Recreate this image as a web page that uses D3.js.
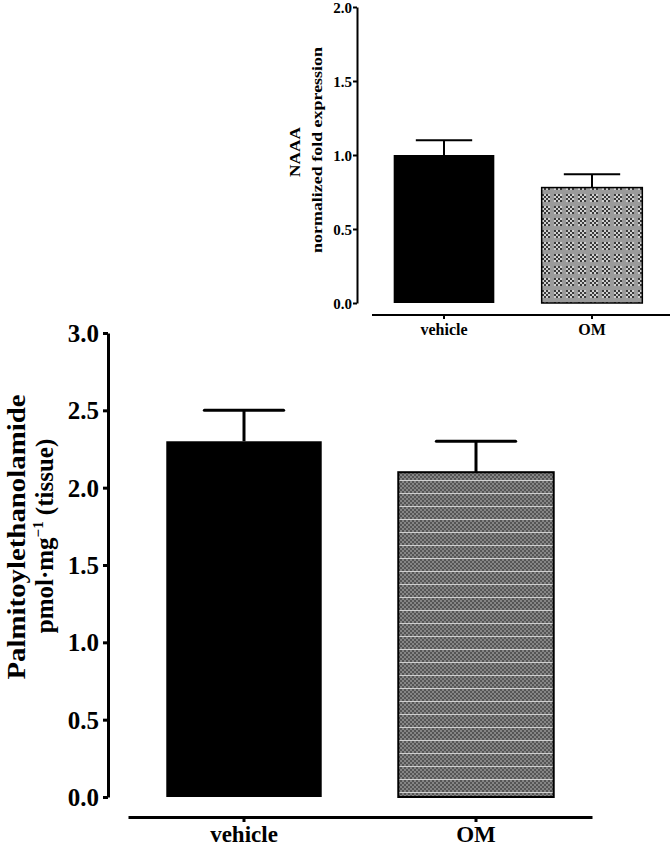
<!DOCTYPE html>
<html><head><meta charset="utf-8">
<script src="https://cdn.jsdelivr.net/npm/d3@7"></script>
<style>
html,body{margin:0;padding:0;background:#fff;}
svg{display:block;}
text{font-family:"Liberation Serif","Times New Roman",serif;font-weight:bold;fill:#000;}
</style></head>
<body>
<svg id="chart" width="670" height="848"></svg>
<script>
// ---- data ----
const categories = ["vehicle", "OM"];
const peaMeans = [2.3, 2.1];
const peaErrors = [0.2, 0.2];
const peaTicks = [0, 0.5, 1.0, 1.5, 2.0, 2.5, 3.0];
const naaaMeans = [1.0, 0.78];
const naaaErrors = [0.1, 0.09];
const naaaTicks = [0, 0.5, 1.0, 1.5, 2.0];

const svg = d3.select("#chart");
const defs = svg.append("defs");

// pattern for main OM bar: fine checker with light horizontal streaks
const p1 = defs.append("pattern").attr("id","patMain").attr("patternUnits","userSpaceOnUse")
  .attr("width",4).attr("height",13);
p1.append("rect").attr("width",4).attr("height",13).attr("fill","#858585");
[[0,0],[2,2],[0,4],[2,6],[0,8],[2,10]].forEach(([x,y])=>{
  p1.append("rect").attr("x",x).attr("y",y).attr("width",2).attr("height",2).attr("fill","#555");
});
p1.append("rect").attr("x",0).attr("y",12).attr("width",4).attr("height",1).attr("fill","#cfcfcf");

// pattern for inset OM bar: blocky checker
const p2 = defs.append("pattern").attr("id","patInset").attr("patternUnits","userSpaceOnUse")
  .attr("width",12).attr("height",12);
p2.append("rect").attr("width",12).attr("height",12).attr("fill","#9a9a9a");
for(let i=0;i<4;i++)for(let j=0;j<4;j++){
  p2.append("rect").attr("x",2+i*2).attr("y",2+j*2).attr("width",2).attr("height",2)
    .attr("fill",(i+j)%2? "#d0d0d0":"#3a3a3a");
}

// ---------- Main chart ----------
const xMain = d3.scaleBand().domain(categories).range([128, 592]).paddingInner(0.33).paddingOuter(0.165);
const yMain = d3.scaleLinear().domain([0, 3]).range([797, 333]);
const gMain = svg.append("g");

gMain.selectAll("rect.bar").data(categories).join("rect")
  .attr("x", d => xMain(d)).attr("width", xMain.bandwidth())
  .attr("y", (d,i) => yMain(peaMeans[i])).attr("height", (d,i) => yMain(0) - yMain(peaMeans[i]))
  .attr("fill", (d,i) => i === 0 ? "#000" : "url(#patMain)")
  .attr("stroke", "#000").attr("stroke-width", (d,i)=> i===0?0:2);

const capMain = xMain.bandwidth() * 0.51;
categories.forEach((c,i) => {
  const cx = xMain(c) + xMain.bandwidth()/2;
  gMain.append("line").attr("x1",cx).attr("x2",cx)
    .attr("y1",yMain(peaMeans[i])).attr("y2",yMain(peaMeans[i]+peaErrors[i]))
    .attr("stroke","#000").attr("stroke-width",3);
  gMain.append("line").attr("x1",cx-capMain/2).attr("x2",cx+capMain/2)
    .attr("y1",yMain(peaMeans[i]+peaErrors[i])).attr("y2",yMain(peaMeans[i]+peaErrors[i]))
    .attr("stroke","#000").attr("stroke-width",3).attr("stroke-linecap","round");
});

const yAxMain = gMain.append("g").attr("transform","translate(108,0)")
  .call(d3.axisLeft(yMain).tickValues(peaTicks).tickFormat(d3.format(".1f")).tickSize(5).tickSizeOuter(0));
yAxMain.select(".domain").attr("stroke-width",3);
yAxMain.selectAll(".tick line").attr("stroke-width",3);
yAxMain.selectAll(".tick text").attr("font-size",25).attr("x",-9).attr("dy","0.34em")
  .style("font-family","'Liberation Serif',serif").style("font-weight","bold");

const xAxMain = gMain.append("g").attr("transform","translate(0,817)")
  .call(d3.axisBottom(xMain).tickSize(5).tickSizeOuter(0));
xAxMain.select(".domain").attr("stroke-width",3);
xAxMain.selectAll(".tick line").attr("stroke-width",3);
xAxMain.selectAll(".tick text").attr("font-size",23).attr("y",7).attr("dy","0.8em")
  .style("font-family","'Liberation Serif',serif").style("font-weight","bold");

const yl = gMain.append("text").attr("transform","translate(25,537) rotate(-90)")
  .attr("text-anchor","middle").attr("font-size",25)
  .attr("textLength",285).attr("lengthAdjust","spacingAndGlyphs").text("Palmitoylethanolamide");
const yl2 = gMain.append("text").attr("transform","translate(53,536) rotate(-90)")
  .attr("text-anchor","middle").attr("font-size",25);
yl2.append("tspan").text("pmol·mg");
yl2.append("tspan").attr("font-size",15).attr("dy",-10).text("−1");
yl2.append("tspan").attr("dy",10).text(" (tissue)");

// ---------- Inset chart ----------
const xIn = d3.scaleBand().domain(categories).range([370, 666]).paddingInner(0.32).paddingOuter(0.16);
const yIn = d3.scaleLinear().domain([0, 2]).range([303, 7]);
const gIn = svg.append("g");

gIn.selectAll("rect.bar").data(categories).join("rect")
  .attr("x", d => xIn(d)).attr("width", xIn.bandwidth())
  .attr("y", (d,i) => yIn(naaaMeans[i])).attr("height", (d,i) => yIn(0) - yIn(naaaMeans[i]))
  .attr("fill", (d,i) => i === 0 ? "#000" : "url(#patInset)")
  .attr("stroke", "#000").attr("stroke-width", (d,i)=> i===0?0:1.5);

const capIn = xIn.bandwidth() * 0.56;
categories.forEach((c,i) => {
  const cx = xIn(c) + xIn.bandwidth()/2;
  gIn.append("line").attr("x1",cx).attr("x2",cx)
    .attr("y1",yIn(naaaMeans[i])).attr("y2",yIn(naaaMeans[i]+naaaErrors[i]))
    .attr("stroke","#000").attr("stroke-width",2);
  gIn.append("line").attr("x1",cx-capIn/2).attr("x2",cx+capIn/2)
    .attr("y1",yIn(naaaMeans[i]+naaaErrors[i])).attr("y2",yIn(naaaMeans[i]+naaaErrors[i]))
    .attr("stroke","#000").attr("stroke-width",2);
});

const yAxIn = gIn.append("g").attr("transform","translate(357,0)")
  .call(d3.axisLeft(yIn).tickValues(naaaTicks).tickFormat(d3.format(".1f")).tickSize(4).tickSizeOuter(0));
yAxIn.select(".domain").attr("stroke-width",2);
yAxIn.selectAll(".tick line").attr("stroke-width",2);
yAxIn.selectAll(".tick text").attr("font-size",15).attr("x",-5).attr("dy","0.34em")
  .style("font-family","'Liberation Serif',serif").style("font-weight","bold");

const xAxIn = gIn.append("g").attr("transform","translate(0,315)")
  .call(d3.axisBottom(xIn).tickSize(4).tickSizeOuter(0));
xAxIn.select(".domain").attr("stroke-width",2).attr("d","M372,0H670");
xAxIn.selectAll(".tick line").attr("stroke-width",2);
xAxIn.selectAll(".tick text").attr("font-size",16).attr("y",7).attr("dy","0.8em")
  .style("font-family","'Liberation Serif',serif").style("font-weight","bold");

gIn.append("text").attr("transform","translate(300,152) rotate(-90)")
  .attr("text-anchor","middle").attr("font-size",15)
  .attr("textLength",50).attr("lengthAdjust","spacingAndGlyphs").text("NAAA");
gIn.append("text").attr("transform","translate(322,150) rotate(-90)")
  .attr("text-anchor","middle").attr("font-size",14)
  .attr("textLength",206).attr("lengthAdjust","spacingAndGlyphs").text("normalized fold expression");
</script>
</body></html>
